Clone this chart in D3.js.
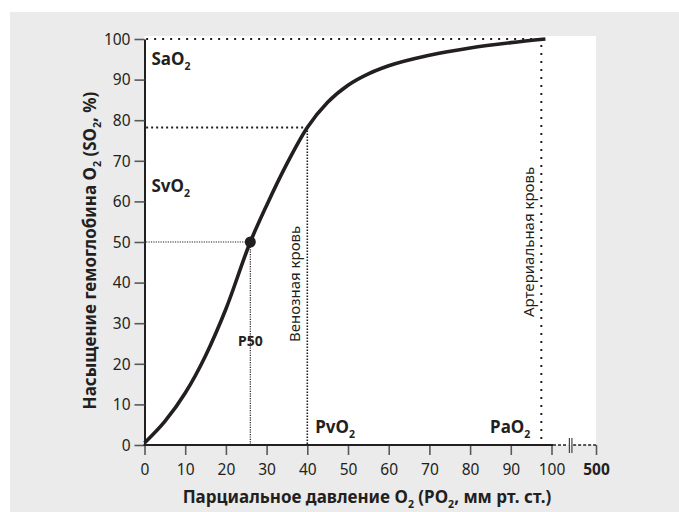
<!DOCTYPE html>
<html>
<head>
<meta charset="utf-8">
<script src="https://cdn.jsdelivr.net/npm/d3@7"></script>
<style>
body { margin: 0; background: #fff; }
svg { display: block; }
text { font-family: "Noto Sans", sans-serif; fill: #231f20; }
</style>
</head>
<body>
<div id="chart"></div>
<script>

// curve (PO2 mm Hg -> SO2 %)
var po2 = [0, 5, 10, 15, 20, 26, 30, 35, 40, 45, 50, 55, 60, 70, 80, 90, 98.5];
var so2 = [0.5, 5.8, 12.8, 22, 33.5, 50, 59, 69.3, 78.2, 84.4, 88.6, 91.4, 93.4, 96, 97.8, 99.1, 100];

var xTicks = [0, 10, 20, 30, 40, 50, 60, 70, 80, 90, 100, 500];
var yTicks = [0, 10, 20, 30, 40, 50, 60, 70, 80, 90, 100];

var p50 = [26, 50];
var venous = [40, 78.2];
var arterial = [97.5, 100];

var W = 679, H = 512;

var svg = d3.select("#chart").append("svg")
    .attr("width", W)
    .attr("height", H);

// grey panel + white plot area
svg.append("rect")
    .attr("x", 10).attr("y", 12)
    .attr("width", W - 10).attr("height", H - 12)
    .style("fill", "#ebebec");

var x = d3.scaleLinear().domain([0, 100, 500]).range([144.5, 551.5, 596]);
var y = d3.scaleLinear().domain([0, 100]).range([445, 39]);

svg.append("rect")
    .attr("x", x(0)).attr("y", 36)
    .attr("width", x(500) - x(0)).attr("height", y(0) - 36)
    .style("fill", "#fff");

// little helper: "_2" -> subscript 2
function subText(t, str, size) {
  var bits = str.split("_");
  t.append("tspan").text(bits[0]);
  for (var i = 1; i < bits.length; i++) {
    t.append("tspan").attr("dy", size * 0.28).attr("font-size", size * 0.62).text(bits[i][0]);
    t.append("tspan").attr("dy", -size * 0.28).text(bits[i].slice(1));
  }
}

// guide lines
function guide(x1, y1, x2, y2, w, dash) {
  svg.append("line")
      .attr("x1", x(x1)).attr("y1", y(y1))
      .attr("x2", x(x2)).attr("y2", y(y2))
      .style("stroke", "#231f20")
      .style("stroke-width", w)
      .style("stroke-dasharray", dash);
}
guide(0.4, arterial[1], arterial[0], arterial[1], 2, "2 6");
guide(arterial[0], arterial[1] - 1.5, arterial[0], 0, 2, "2 6");
guide(0.4, venous[1], venous[0], venous[1], 2, "2 3");
guide(venous[0], venous[1], venous[0], 0, 1.6, "1.5 1.5");
guide(0.4, p50[1], p50[0], p50[1], 1.2, "1.2 1.2");
guide(p50[0], p50[1], p50[0], 0, 1.2, "1.2 1.2");

// y axis
var yAxis = svg.append("g")
    .attr("transform", "translate(" + x(0) + ",0)")
    .call(d3.axisLeft(y).tickValues(yTicks).tickSize(10).tickSizeOuter(0).tickPadding(4));
yAxis.select(".domain").style("stroke", "#231f20").style("stroke-width", 2);
yAxis.selectAll(".tick line").style("stroke", "#58595b").style("stroke-width", 1.6);
yAxis.selectAll(".tick text")
    .attr("font-size", 15.5)
    .style("font-family", "Noto Sans")
    .style("fill", "#231f20")
    .attr("dy", "0.34em");

// x axis
var xAxis = svg.append("g")
    .attr("transform", "translate(0," + y(0) + ")")
    .call(d3.axisBottom(x).tickValues(xTicks).tickSize(10).tickSizeOuter(0).tickPadding(9)
      .tickFormat(d3.format("d")));
xAxis.select(".domain").remove();
xAxis.selectAll(".tick line").style("stroke", "#58595b").style("stroke-width", 1.6);
xAxis.selectAll(".tick text")
    .attr("font-size", 15.5)
    .style("font-family", "Noto Sans")
    .style("fill", "#231f20")
    .style("font-weight", function(d) { return d === 500 ? "bold" : "normal"; });

var breakX = x(100) + 0.43 * (x(500) - x(100));
svg.append("line")
    .attr("x1", x(0) - 1).attr("x2", x(100) + 1.5)
    .attr("y1", y(0)).attr("y2", y(0))
    .style("stroke", "#231f20").style("stroke-width", 2);
svg.append("line")
    .attr("x1", x(100) + 1.5).attr("x2", breakX - 2.5)
    .attr("y1", y(0)).attr("y2", y(0))
    .style("stroke", "#231f20").style("stroke-width", 1.4).style("stroke-dasharray", "3 2");
svg.append("line")
    .attr("x1", breakX + 2.5).attr("x2", x(500))
    .attr("y1", y(0)).attr("y2", y(0))
    .style("stroke", "#231f20").style("stroke-width", 1.4).style("stroke-dasharray", "3 2");
[-1.3, 1.3].forEach(function(o) {
  svg.append("line")
      .attr("x1", breakX + o).attr("x2", breakX + o)
      .attr("y1", y(0) - 7).attr("y2", y(0) + 8)
      .style("stroke", "#231f20").style("stroke-width", 1);
});

// dissociation curve
var pts = po2.map(function(d, i) { return [d, so2[i]]; });
svg.append("path")
    .datum(pts)
    .attr("d", d3.line()
      .x(function(d) { return x(d[0]); })
      .y(function(d) { return y(d[1]); })
      .curve(d3.curveMonotoneX))
    .style("fill", "none")
    .style("stroke", "#231f20")
    .style("stroke-width", 3.6);

svg.append("circle")
    .attr("cx", x(p50[0])).attr("cy", y(p50[1]))
    .attr("r", 5.5)
    .style("fill", "#231f20");

// labels
var t;
t = svg.append("text").attr("x", x(0) + 7).attr("y", y(100) + 26)
    .attr("font-size", 17).attr("font-weight", "bold");
subText(t, "SaO_2", 17);

t = svg.append("text").attr("x", x(0) + 7).attr("y", 192)
    .attr("font-size", 17).attr("font-weight", "bold");
subText(t, "SvO_2", 17);

svg.append("text").attr("x", x(p50[0])).attr("y", 346)
    .attr("text-anchor", "middle")
    .attr("font-size", 14).attr("font-weight", "bold")
    .text("P50");

t = svg.append("text").attr("x", x(venous[0]) + 8).attr("y", 433)
    .attr("font-size", 17).attr("font-weight", "bold");
subText(t, "PvO_2", 17);

t = svg.append("text").attr("x", x(arterial[0]) - 11).attr("y", 433)
    .attr("text-anchor", "end")
    .attr("font-size", 17).attr("font-weight", "bold");
subText(t, "PaO_2", 17);

svg.append("text")
    .attr("transform", "translate(" + (x(venous[0]) - 7.5) + ",342) rotate(-90)")
    .attr("font-size", 15)
    .text("Венозная кровь");

svg.append("text")
    .attr("transform", "translate(" + (x(arterial[0]) - 7.5) + ",317) rotate(-90)")
    .attr("font-size", 15)
    .text("Артериальная кровь");

// axis titles
t = svg.append("text").attr("x", 367).attr("y", 503)
    .attr("text-anchor", "middle")
    .attr("font-size", 17).attr("font-weight", "bold");
subText(t, "Парциальное давление O_2 (PO_2, мм рт. ст.)", 17);

t = svg.append("text")
    .attr("transform", "translate(96,250.5) rotate(-90)")
    .attr("text-anchor", "middle")
    .attr("font-size", 17).attr("font-weight", "bold");
subText(t, "Насыщение гемоглобина O_2 (SO_2, %)", 17);

</script>
</body>
</html>
